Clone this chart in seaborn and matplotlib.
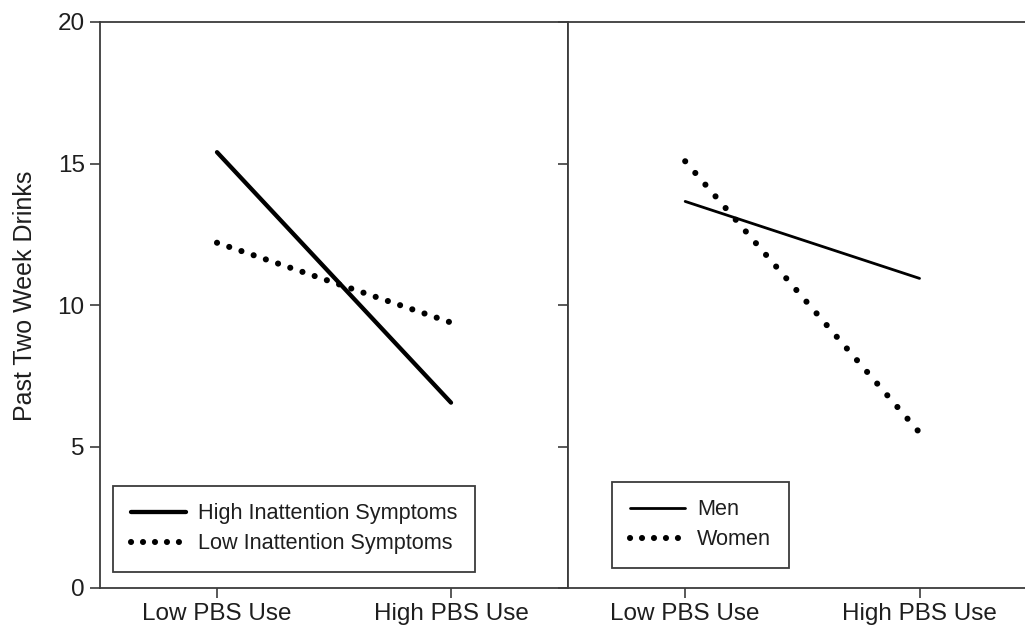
import matplotlib
matplotlib.use('Agg')
import matplotlib.pyplot as plt
import seaborn as sns
import pandas as pd
from matplotlib.lines import Line2D

# ---- data ----
pbs_levels = ['Low PBS Use', 'High PBS Use']
high_inattention = [15.4, 6.55]
low_inattention = [12.2, 9.38]
men = [13.66, 10.94]
women = [15.08, 5.49]
y_ticks = [0, 5, 10, 15, 20]
left_labels = ['High Inattention Symptoms', 'Low Inattention Symptoms']
right_labels = ['Men', 'Women']

sns.set_theme(style='ticks')
plt.rcParams['font.family'] = ['Liberation Sans', 'DejaVu Sans']

spine_col = '#3c3c3c'
text_col = '#1e1e1e'
W, H = 1025, 628
fig = plt.figure(figsize=(W / 100, H / 100), dpi=100)
ax1 = fig.add_axes([100 / W, 1 - 588 / H, 468 / W, 566 / H])
ax2 = fig.add_axes([568 / W, 1 - 588 / H, 457 / W, 566 / H], sharey=ax1)

dot_lw = 4.4
dot_left = (0, (0.01, 2.10))
dot_right = (0, (0.01, 2.52))
dot_leg = (0, (0.01, 1.95))

df1 = pd.DataFrame({'pbs': pbs_levels, 'high': high_inattention, 'low': low_inattention})
df2 = pd.DataFrame({'pbs': pbs_levels, 'men': men, 'women': women})

sns.lineplot(data=df1, x='pbs', y='high', ax=ax1, color='black', lw=3.1, sort=False)
sns.lineplot(data=df1, x='pbs', y='low', ax=ax1, color='black', lw=dot_lw, sort=False,
             linestyle=dot_left, dash_capstyle='round')
sns.lineplot(data=df2, x='pbs', y='men', ax=ax2, color='black', lw=2.0, sort=False)
sns.lineplot(data=df2, x='pbs', y='women', ax=ax2, color='black', lw=dot_lw, sort=False,
             linestyle=dot_right, dash_capstyle='round')

ax1.set_ylim(0, 20)
ax1.set_yticks(y_ticks)
ax1.set_xlim(-0.5, 1.5)
ax2.set_xlim(-0.5, 1.45)

ax1.set_xlabel('')
ax2.set_xlabel('')
ax1.set_ylabel('Past Two Week Drinks', fontsize=18, color=text_col)
ax1.yaxis.set_label_coords(-0.135, 0.516)
ax2.set_ylabel('')

for ax in (ax1, ax2):
    for s in ax.spines.values():
        s.set_color(spine_col)
        s.set_linewidth(1.3)
    ax.tick_params(direction='out', length=7, width=1.2, color=spine_col,
                   labelsize=17.5, pad=4, labelcolor=text_col)
    ax.grid(False)
    ax.set_facecolor('white')

ax1.spines['right'].set_visible(True)
ax1.spines['top'].set_visible(True)
ax2.spines['right'].set_visible(False)
ax2.spines['top'].set_visible(True)
ax2.tick_params(axis='y', labelleft=False)

h_left = [Line2D([], [], color='black', lw=3.1),
          Line2D([], [], color='black', lw=dot_lw, linestyle=dot_leg, dash_capstyle='round')]
h_right = [Line2D([], [], color='black', lw=2.0),
           Line2D([], [], color='black', lw=dot_lw, linestyle=dot_leg, dash_capstyle='round')]

leg_kw = dict(loc='lower left', fontsize=15.6, frameon=True, fancybox=False, framealpha=1,
              edgecolor=spine_col, handlelength=2.55, handletextpad=0.55,
              labelspacing=0.42, borderpad=0.82, borderaxespad=0)
lg1 = ax1.legend(h_left, left_labels, bbox_to_anchor=(0.028, 0.028), **leg_kw)
lg2 = ax2.legend(h_right, right_labels, bbox_to_anchor=(0.096, 0.035), **leg_kw)
for lg in (lg1, lg2):
    lg.get_frame().set_linewidth(1.3)
    for t in lg.get_texts():
        t.set_color(text_col)

fig.savefig('out.png', dpi=100, facecolor='white')
